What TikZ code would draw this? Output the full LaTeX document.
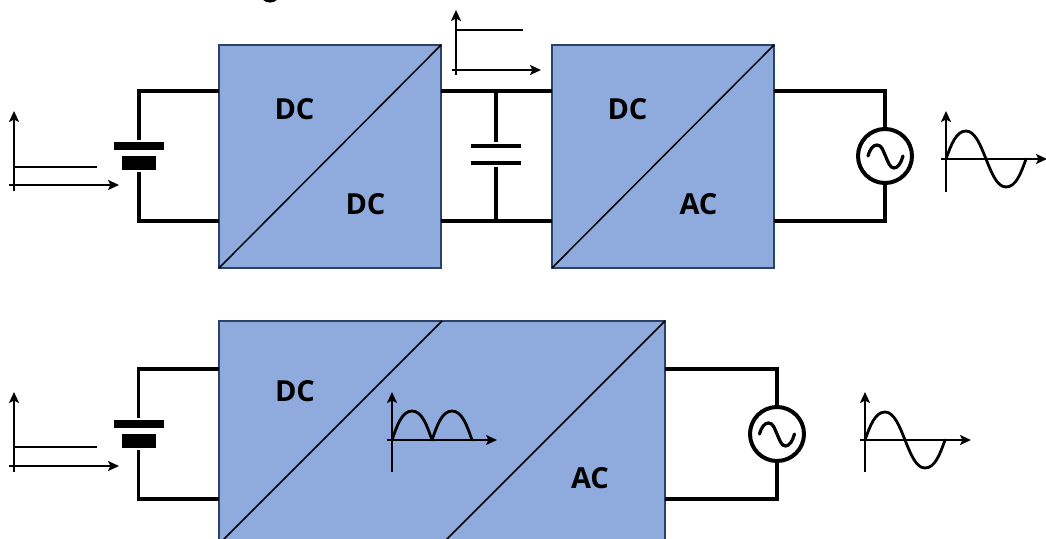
\documentclass[tikz,border=0pt]{standalone}
\usepackage{fontspec}
\setmainfont{Open Sans}
\usetikzlibrary{arrows.meta}
\definecolor{boxfill}{HTML}{8FAADC}
\definecolor{boxedge}{HTML}{2A4168}
\tikzset{
  conv/.style={draw=boxedge,fill=boxfill,line width=1.5pt,inner sep=0pt,outer sep=0pt,minimum width=#1,minimum height=223pt,anchor=north west},
  diag/.style={draw=black,line width=1.5pt},
  wire/.style={draw=black,line width=3.6pt,line join=miter},
  plate/.style={fill=black,inner sep=0pt,outer sep=0pt,minimum width=#1},
  source/.style={circle,draw=black,line width=4pt,fill=white,minimum size=54pt,inner sep=0pt,outer sep=0pt},
  lbl/.style={font=\fontsize{29}{29}\selectfont\bfseries,inner sep=0pt,text=black},
  axis/.style={draw=black,line width=2.6pt,-{Stealth[length=11pt,width=10pt,inset=2.5pt]}},
  level/.style={draw=black,line width=2pt},
  wave/.style={draw=black,line width=2.8pt,line cap=round},
  tilde/.style={draw=black,line width=3.2pt,line cap=round}
}
\newcommand{\sinewave}[4]{% x0, y0, half width, height
  \draw[wave] (#1,#2) .. controls (#1+0.25*#3,#2-0.5*#4) and (#1+0.5*#3,#2-#4) .. (#1+#3,#2-#4)
    .. controls (#1+1.45*#3,#2-#4) and (#1+1.72*#3,#2-0.5*#4) .. (#1+2*#3,#2)
    .. controls (#1+2.28*#3,#2+0.5*#4) and (#1+2.55*#3,#2+#4) .. (#1+3*#3,#2+#4)
    .. controls (#1+3.5*#3,#2+#4) and (#1+3.75*#3,#2+0.5*#4) .. (#1+4*#3,#2);}
\newcommand{\hump}[4]{%
  \draw[wave] (#1,#2) .. controls (#1+0.25*#3,#2-0.5*#4) and (#1+0.5*#3,#2-#4) .. (#1+#3,#2-#4)
    .. controls (#1+1.5*#3,#2-#4) and (#1+1.75*#3,#2-0.5*#4) .. (#1+2*#3,#2);}
\begin{document}
\begin{tikzpicture}[x=1pt,y=-1pt]
\useasboundingbox (0,0) rectangle (1046,538);
\clip (0,0) rectangle (1046,538);
% clipped remnant at the top edge
\draw[line width=2.6pt] (264,-1) .. controls (267,2) and (273,2) .. (276,-1);

% converters
\node[conv=222pt] (b1) at (219,45) {};
\node[conv=222pt] (b2) at (552,45) {};
\node[conv=446pt,minimum height=228pt] (b3) at (219,321) {};
\draw[diag] (b1.south west) -- (b1.north east);
\draw[diag] (b2.south west) -- (b2.north east);
\coordinate (d1a) at (442,321); \coordinate (d1b) at (219,544);
\coordinate (d2a) at (665,321); \coordinate (d2b) at (442,544);
\draw[diag] (d1b) -- (d1a);
\draw[diag] (d2b) -- (d2a);

\node[lbl] (t1) at (294.5,109) {DC};
\node[lbl] (t2) at (365.5,204) {DC};
\node[lbl] (t3) at (627.5,109) {DC};
\node[lbl] (t4) at (698.5,204) {AC};
\node[lbl] (t5) at (295,391) {DC};
\node[lbl] (t6) at (590,478) {AC};

% top row: battery
\node[plate=50pt,minimum height=7.5pt] (bt1) at (139,146) {};
\node[plate=34pt,minimum height=14pt] (bs1) at (139,163) {};
\coordinate (w1a) at (219,91);  \coordinate (w1b) at (139,91);
\coordinate (w1c) at (139,221); \coordinate (w1d) at (219,221);
\draw[wire] (w1a) -- (w1b) -- ([yshift=2pt]bt1.north);
\draw[wire] (w1d) -- (w1c) -- ([yshift=-2pt]bs1.south);

% top row: capacitor
\node[plate=50pt,minimum height=4.8pt] (c1) at (496,146) {};
\node[plate=50pt,minimum height=4.8pt] (c2) at (496,163) {};
\coordinate (w2a) at (441,91);  \coordinate (w2b) at (552,91);
\coordinate (w2c) at (441,221); \coordinate (w2d) at (552,221);
\coordinate (w2e) at (496,91);  \coordinate (w2f) at (496,221);
\draw[wire] (w2a) -- (w2b);
\draw[wire] (w2c) -- (w2d);
\draw[wire] (w2e) -- ([yshift=1.5pt]c1.north);
\draw[wire] (w2f) -- ([yshift=-1.5pt]c2.south);

% top row: source
\node[source] (s1) at (885,156) {};
\coordinate (w3a) at (774,91);  \coordinate (w3b) at (885,91);
\coordinate (w3c) at (885,221); \coordinate (w3d) at (774,221);
\draw[wire] (w3a) -- (w3b) -- (s1.north);
\draw[wire] (w3d) -- (w3c) -- (s1.south);
\draw[tilde] (868,156) .. controls (870,149) and (873,145) .. (877,145) .. controls (882,145) and (883,151) .. (885.5,156) .. controls (888,162) and (890,168) .. (894,168) .. controls (898,168) and (901,163) .. (903,156);

% bottom row: battery
\node[plate=50pt,minimum height=7.5pt] (bt2) at (138.5,424) {};
\node[plate=34pt,minimum height=14pt] (bs2) at (138.5,441) {};
\coordinate (w4a) at (219,369); \coordinate (w4b) at (138.5,369);
\coordinate (w4c) at (138.5,499); \coordinate (w4d) at (219,499);
\draw[wire] (w4a) -- (w4b) -- ([yshift=2pt]bt2.north);
\draw[wire] (w4d) -- (w4c) -- ([yshift=-2pt]bs2.south);

% bottom row: source
\node[source] (s2) at (777,434) {};
\coordinate (w5a) at (665,369); \coordinate (w5b) at (777,369);
\coordinate (w5c) at (777,499); \coordinate (w5d) at (665,499);
\draw[wire] (w5a) -- (w5b) -- (s2.north);
\draw[wire] (w5d) -- (w5c) -- (s2.south);
\draw[tilde] (759.5,434) .. controls (761.5,427) and (764.5,423) .. (768.5,423) .. controls (773.5,423) and (774.5,429) .. (777,434) .. controls (779.5,440) and (781.5,446) .. (785.5,446) .. controls (789.5,446) and (792.5,441) .. (794.5,434);

% graphs
\draw[axis] (14,191) -- (14,111);
\draw[axis] (9,185) -- (119,185);
\draw[level] (14,167) -- (97,167);

\draw[axis] (456,75) -- (456,10);
\draw[axis] (452,70) -- (541,70);
\draw[level] (456,30) -- (523,30);

\draw[axis] (946,192) -- (946,111);
\draw[axis] (941,159) -- (1047,159);
\sinewave{946}{159}{20}{28}

\draw[axis] (14,472) -- (14,392);
\draw[axis] (9,466) -- (119,466);
\draw[level] (14,447) -- (97,447);

\draw[axis] (392,472) -- (392,392);
\draw[axis] (387,440) -- (497,440);
\hump{392}{440}{20}{29}
\hump{432}{440}{20}{29}

\draw[axis] (865,472) -- (865,392);
\draw[axis] (860,440) -- (971,440);
\sinewave{865}{440}{20}{28}
\end{tikzpicture}
\end{document}
